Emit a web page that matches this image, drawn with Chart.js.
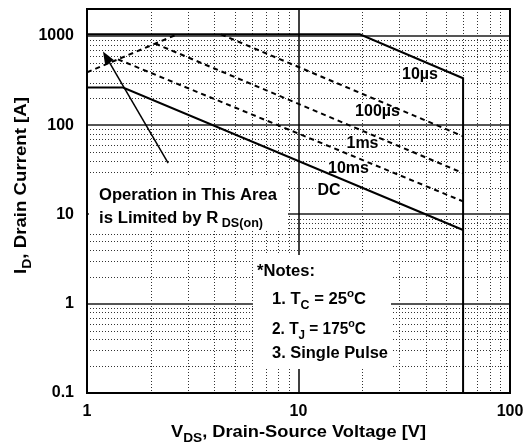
<!DOCTYPE html>
<html>
<head>
<meta charset="utf-8">
<script src="https://cdn.jsdelivr.net/npm/chart.js@4.4.0/dist/chart.umd.min.js"></script>
<style>
  html, body { margin: 0; padding: 0; background: #fff; }
</style>
</head>
<body>
<canvas id="soa" width="526" height="448"></canvas>
<script>
// safe operating area, V_DS [V] against I_D [A]
const rdsV = [1, 2.67];
const rdsI = [390, 1040];
const us10V = [1, 19.5, 60, 60];
const us10I = [1040, 1040, 335, 0.1];
const us100V = [4.3, 60];
const us100I = [1040, 75];
const ms1V = [2.1, 60];
const ms1I = [820, 29];
const ms10V = [1.4, 60];
const ms10I = [546, 14];
const dcV = [1, 1.48, 60];
const dcI = [264, 264, 6.7];

const xTicks = [1, 10, 100];
const xTickLabels = ['1', '10', '100'];
const yTicks = [0.1, 1, 10, 100, 1000];
const yTickLabels = ['0.1', '1', '10', '100', '1000'];

// arrow for the R_DS(on) note, data coords (tail, tip)
const arrowV = [2.42, 1.19];
const arrowI = [37.6, 670];

const FONT = '"Liberation Sans", Arial, Helvetica, sans-serif';

function pts(xs, ys) {
  return xs.map((v, i) => ({ x: v, y: ys[i] }));
}

function curve(label, xs, ys, dashed) {
  return {
    label: label,
    data: pts(xs, ys),
    showLine: true,
    borderColor: '#000',
    borderWidth: 2,
    borderDash: dashed ? [5, 4] : [],
    pointRadius: 0,
    tension: 0
  };
}

// draws bold text made of pieces, some of them sub- or superscript
function drawRich(ctx, parts, x, y, size, align, targetW) {
  const segs = parts.map(p => {
    const kind = p[1] || '';
    const s = kind === 'sub' ? size * 0.75 : kind === 'sup' ? size * 0.7 : size;
    const dy = kind === 'sub' ? size * 0.3 : kind === 'sup' ? -size * 0.42 : 0;
    ctx.font = 'bold ' + s + 'px ' + FONT;
    return { t: p[0], s: s, dy: dy, w: ctx.measureText(p[0]).width };
  });
  const total = segs.reduce((a, g) => a + g.w, 0);
  const k = targetW ? targetW / total : 1;
  ctx.save();
  ctx.translate(x, y);
  ctx.scale(k, 1);
  let cx = align === 'center' ? -total / 2 : 0;
  ctx.textAlign = 'left';
  ctx.textBaseline = 'alphabetic';
  ctx.fillStyle = '#000';
  segs.forEach(g => {
    ctx.font = 'bold ' + g.s + 'px ' + FONT;
    ctx.fillText(g.t, cx, g.dy);
    cx += g.w;
  });
  ctx.restore();
  return total * k;
}

function seg(ctx, x1, y1, x2, y2) {
  ctx.beginPath();
  ctx.moveTo(x1, y1);
  ctx.lineTo(x2, y2);
  ctx.stroke();
}

const curveLabels = [
  ['10\u00b5s', 420, 78.5],
  ['100\u00b5s', 377.5, 116],
  ['1ms', 362.5, 148],
  ['10ms', 348.5, 173],
  ['DC', 329, 195]
];

const gridPlugin = {
  id: 'soaGrid',
  beforeDatasetsDraw(chart) {
    const { ctx, chartArea: a, scales: { x, y } } = chart;
    ctx.save();

    // minor grid, dotted
    ctx.lineWidth = 1;
    ctx.strokeStyle = '#333';
    ctx.setLineDash([1, 2]);
    for (let d = 1; d < 100; d *= 10) {
      for (let m = 2; m <= 9; m++) {
        const px = Math.round(x.getPixelForValue(m * d)) + 0.5;
        seg(ctx, px, a.top, px, a.bottom);
      }
    }
    for (let d = 0.1; d < 2000; d *= 10) {
      for (let m = 2; m <= 9; m++) {
        if (m * d >= 1999) continue;
        const py = Math.round(y.getPixelForValue(m * d)) + 0.5;
        seg(ctx, a.left, py, a.right, py);
      }
    }

    // decades, solid
    ctx.setLineDash([]);
    ctx.strokeStyle = '#555';
    ctx.lineWidth = 2;
    [1, 10, 100, 1000].forEach(v => {
      const py = Math.round(y.getPixelForValue(v));
      seg(ctx, a.left, py, a.right, py);
    });
    ctx.strokeStyle = '#000';
    ctx.lineWidth = 1.5;
    const p10 = Math.round(x.getPixelForValue(10));
    seg(ctx, p10, a.top, p10, a.bottom);

    // white note boxes
    ctx.fillStyle = '#fff';
    ctx.fillRect(89, 176, 199, 54);
    ctx.fillRect(253, 255, 138, 114);

    drawRich(ctx, [['Operation in This Area']], 99, 200, 16, 'left', 178);
    drawRich(ctx, [['is Limited by R'], [' DS(on)', 'sub']], 99, 222.5, 16, 'left', 164);

    drawRich(ctx, [['*Notes:']], 257, 276, 16, 'left', 58);
    drawRich(ctx, [['1. T'], ['C', 'sub'], [' = 25'], ['o', 'sup'], ['C']], 272, 304, 16, 'left', 94);
    drawRich(ctx, [['2. T'], ['J', 'sub'], [' = 175'], ['o', 'sup'], ['C']], 272, 334, 16, 'left', 94);
    drawRich(ctx, [['3. Single Pulse']], 272, 358, 16, 'left', 116);

    // curve labels with a white patch under them
    ctx.font = 'bold 16px ' + FONT;
    curveLabels.forEach(l => {
      const w = ctx.measureText(l[0]).width;
      ctx.fillStyle = '#fff';
      ctx.fillRect(l[1] - w / 2 - 1, l[2] - 13, w + 2, 16);
    });
    curveLabels.forEach(l => {
      drawRich(ctx, [[l[0]]], l[1], l[2], 16, 'center');
    });
    ctx.restore();
  },
  afterDatasetsDraw(chart) {
    const { ctx, chartArea: a, scales: { x, y } } = chart;
    ctx.save();

    // arrow
    const x1 = x.getPixelForValue(arrowV[0]), y1 = y.getPixelForValue(arrowI[0]);
    const x2 = x.getPixelForValue(arrowV[1]), y2 = y.getPixelForValue(arrowI[1]);
    const ang = Math.atan2(y2 - y1, x2 - x1);
    const hl = 13, hw = 5;
    ctx.strokeStyle = '#000';
    ctx.fillStyle = '#000';
    ctx.lineWidth = 1.5;
    seg(ctx, x1, y1, x2 - Math.cos(ang) * hl * 0.8, y2 - Math.sin(ang) * hl * 0.8);
    ctx.beginPath();
    ctx.moveTo(x2, y2);
    ctx.lineTo(x2 - Math.cos(ang) * hl + Math.sin(ang) * hw, y2 - Math.sin(ang) * hl - Math.cos(ang) * hw);
    ctx.lineTo(x2 - Math.cos(ang) * hl - Math.sin(ang) * hw, y2 - Math.sin(ang) * hl + Math.cos(ang) * hw);
    ctx.closePath();
    ctx.fill();

    // frame
    ctx.lineWidth = 2;
    ctx.strokeRect(a.left, a.top, a.right - a.left, a.bottom - a.top);

    // axis titles
    drawRich(ctx, [['V'], ['DS', 'sub'], [', Drain-Source Voltage [V]']],
      (a.left + a.right) / 2, 436.5, 17, 'center', 255);
    ctx.translate(26, 185.5);
    ctx.rotate(-Math.PI / 2);
    drawRich(ctx, [['I'], ['D', 'sub'], [', Drain Current [A]']], 0, 0, 17, 'center', 177);
    ctx.restore();
  }
};

const tickFont = { family: FONT, size: 16, weight: 'bold' };

function noPad(s) {
  s.paddingTop = 0;
  s.paddingBottom = 0;
  s.paddingLeft = 0;
  s.paddingRight = 0;
}

new Chart(document.getElementById('soa').getContext('2d'), {
  type: 'scatter',
  data: {
    datasets: [
      curve('RDS(on) limit', rdsV, rdsI, true),
      curve('10us', us10V, us10I, false),
      curve('100us', us100V, us100I, true),
      curve('1ms', ms1V, ms1I, true),
      curve('10ms', ms10V, ms10I, true),
      curve('DC', dcV, dcI, false)
    ]
  },
  options: {
    responsive: false,
    animation: false,
    devicePixelRatio: 1,
    layout: { padding: { top: 9, right: 16, left: 0, bottom: 0 } },
    plugins: { legend: { display: false }, tooltip: { enabled: false } },
    scales: {
      x: {
        type: 'logarithmic',
        min: 1,
        max: 100,
        afterBuildTicks: s => { s.ticks = xTicks.map(v => ({ value: v })); },
        afterFit: s => { s.height = 55; noPad(s); },
        grid: { display: false, drawTicks: false },
        border: { display: false },
        ticks: {
          autoSkip: false,
          maxRotation: 0,
          padding: 9,
          color: '#000',
          font: tickFont,
          callback: (v, i) => xTickLabels[i]
        }
      },
      y: {
        type: 'logarithmic',
        min: 0.1,
        max: 2000,
        afterBuildTicks: s => { s.ticks = yTicks.map(v => ({ value: v })); },
        afterFit: s => { s.width = 87; noPad(s); },
        grid: { display: false, drawTicks: false },
        border: { display: false },
        ticks: {
          autoSkip: false,
          padding: 13,
          color: '#000',
          font: tickFont,
          callback: (v, i) => yTickLabels[i]
        }
      }
    }
  },
  plugins: [gridPlugin]
});
</script>
</body>
</html>
